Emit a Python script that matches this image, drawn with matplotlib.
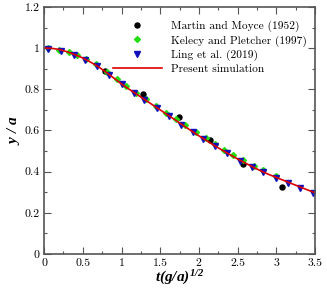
import warnings
import numpy as np
import matplotlib
matplotlib.use('Agg')
import matplotlib.pyplot as plt
from matplotlib.ticker import MultipleLocator

warnings.filterwarnings('ignore')

# Martin and Moyce (1952)
t_mm = [0.79, 1.28, 1.74, 2.14, 2.57, 3.07]
y_mm = [0.889, 0.777, 0.666, 0.554, 0.437, 0.325]

# Kelecy and Pletcher (1997)
t_kp = [0.05, 0.19, 0.32, 0.43, 0.54, 0.67, 0.81, 0.94, 1.06, 1.19, 1.32, 1.45,
        1.58, 1.71, 1.82, 1.96, 2.09, 2.21, 2.33, 2.44, 2.57, 2.71, 2.83, 3.0]
y_kp = [1.0, 0.993, 0.982, 0.966, 0.946, 0.922, 0.886, 0.85, 0.816, 0.784, 0.752, 0.72,
        0.687, 0.655, 0.627, 0.592, 0.562, 0.535, 0.507, 0.482, 0.458, 0.428, 0.406, 0.38]

# Ling et al. (2019)
t_ling = [0.05, 0.22, 0.38, 0.53, 0.68, 0.84, 1.0, 1.16, 1.29, 1.46, 1.61, 1.77,
          1.92, 2.05, 2.21, 2.36, 2.53, 2.69, 2.83, 3.0, 3.15, 3.31, 3.48]
y_ling = [0.997, 0.988, 0.968, 0.943, 0.911, 0.868, 0.824, 0.783, 0.750, 0.708, 0.670, 0.629,
          0.591, 0.560, 0.523, 0.490, 0.454, 0.422, 0.397, 0.370, 0.347, 0.323, 0.298]

# Present simulation
t_sim = [0.0, 0.1, 0.2, 0.3, 0.4, 0.5, 0.6, 0.7, 0.8, 0.9, 1.0, 1.1, 1.2, 1.3, 1.4, 1.5, 1.6, 1.7,
         1.8, 1.9, 2.0, 2.1, 2.2, 2.3, 2.4, 2.5, 2.6, 2.7, 2.8, 2.9, 3.0, 3.1, 3.2, 3.3, 3.4, 3.5]
y_sim = [1.0, 0.999, 0.993, 0.982, 0.968, 0.952, 0.932, 0.91, 0.883, 0.855, 0.826, 0.800, 0.775,
         0.750, 0.725, 0.700, 0.675, 0.650, 0.624, 0.599, 0.574, 0.551, 0.527, 0.505, 0.483, 0.462,
         0.442, 0.422, 0.404, 0.387, 0.372, 0.357, 0.342, 0.327, 0.312, 0.298]

plt.rcParams['font.family'] = 'serif'
plt.rcParams['font.serif'] = ['cmr10', 'DejaVu Serif']
plt.rcParams['mathtext.fontset'] = 'custom'
plt.rcParams['mathtext.it'] = 'Liberation Serif:italic:bold'
plt.rcParams['mathtext.rm'] = 'Liberation Serif:italic:bold'
plt.rcParams['mathtext.bf'] = 'Liberation Serif:italic:bold'

fig = plt.figure(figsize=(3.27, 2.89), dpi=100)
ax = fig.add_axes([0.135, 0.121, 0.828, 0.855])

ax.plot(t_mm, y_mm, 'o', color='black', markersize=3.6, label='Martin and Moyce (1952)')
ax.plot(t_kp, y_kp, 'D', color='#22dd11', markersize=3.0, label='Kelecy and Pletcher (1997)')
ax.plot(t_ling, y_ling, 'v', color='#1111bb', markersize=4.0, label='Ling et al. (2019)')
ax.plot(t_sim, y_sim, '-', color='#dd0000', linewidth=1.2, label='Present simulation')

ax.set_xlim(0, 3.5)
ax.set_ylim(0, 1.2)
ax.xaxis.set_major_locator(MultipleLocator(0.5))
ax.xaxis.set_minor_locator(MultipleLocator(0.25))
ax.yaxis.set_major_locator(MultipleLocator(0.2))
ax.yaxis.set_minor_locator(MultipleLocator(0.1))
ax.set_xticks([0, 0.5, 1, 1.5, 2, 2.5, 3, 3.5])
ax.set_xticklabels(['0', '0.5', '1', '1.5', '2', '2.5', '3', '3.5'])
ax.set_yticks([0, 0.2, 0.4, 0.6, 0.8, 1.0, 1.2])
ax.set_yticklabels(['0', '0.2', '0.4', '0.6', '0.8', '1', '1.2'])
ax.tick_params(which='both', direction='in', top=True, right=True, labelsize=8.5,
               color='#555555', width=0.8)
ax.tick_params(which='major', length=5, pad=3)
ax.tick_params(which='minor', length=2.5)
for s in ax.spines.values():
    s.set_color('#555555')
    s.set_linewidth(1.2)

ax.set_xlabel(r'$t(g/a)^{1/2}$', fontsize=11, labelpad=1)
ax.set_ylabel(r'$y\ /\ a$', fontsize=11, labelpad=2)

ax.legend(loc='upper right', bbox_to_anchor=(1.0, 0.975), frameon=False, fontsize=8.2,
          handlelength=4.3, handletextpad=0.8, labelspacing=0.25, borderaxespad=0.3)

fig.savefig('out.png', dpi=100)
